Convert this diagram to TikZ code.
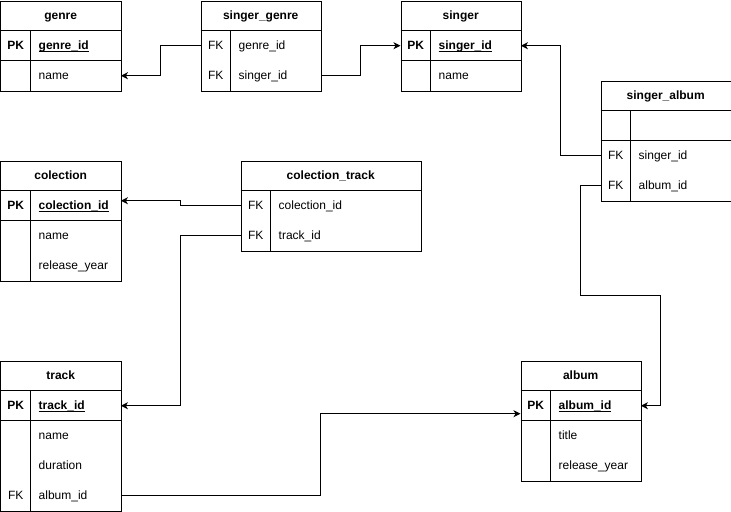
\documentclass[tikz,border=0pt]{standalone}
\usepackage{fontspec}
\setmainfont{Liberation Sans}
\usetikzlibrary{arrows.meta}
\newcommand\pkul[1]{\setbox0\hbox{#1}\rlap{\rule[-1.6pt]{\wd0}{0.8pt}}\box0}
\begin{document}
\begin{tikzpicture}[x=1pt,y=-1pt,
  every node/.style={font=\fontsize{12pt}{14pt}\selectfont},
  ln/.style={line width=1pt},
  tbox/.style={draw, line width=1pt, anchor=north west, inner sep=0pt, minimum height=#1},
  head/.style={anchor=north west, inner sep=0pt, minimum height=30pt, text height=11pt, text depth=2.5pt, font=\fontsize{12pt}{14pt}\selectfont\bfseries},
  keycell/.style={anchor=north west, inner sep=0pt, minimum width=30pt, minimum height=30pt, text height=11pt, text depth=2.5pt},
  fieldcell/.style={anchor=north west, inner xsep=8pt, inner ysep=0pt, minimum height=30pt, text height=11pt, text depth=2.5pt, align=left},
  conn/.style={line width=1pt, -{Stealth[length=7pt,width=7pt,inset=2pt]}}
]
\useasboundingbox (-0.5,-0.5) rectangle (730.5,511);

% ---------- genre ----------
\node[tbox=90pt, minimum width=120pt] (genre) at (0,0) {};
\node[head, minimum width=120pt] (genre-h) at (0,0) {genre};
\node[keycell] (genre-pkk) at (0,30) {\bfseries PK};
\node[fieldcell, text width=74pt] (genre-pk) at (30,30) {\bfseries\pkul{genre\_id}};
\node[keycell] (genre-k2) at (0,60) {};
\node[fieldcell, text width=74pt] (genre-name) at (30,60) {name};
\draw[ln] (genre-h.south west) -- (genre-h.south east);
\draw[ln] (genre-pkk.south west) -- (genre-pk.south east);
\draw[ln] (genre-pkk.north east) -- (genre-k2.south east);

% ---------- singer_genre ----------
\node[tbox=90pt, minimum width=120pt] (sg) at (200,0) {};
\node[head, minimum width=120pt] (sg-h) at (200,0) {singer\_genre};
\node[keycell] (sg-k1) at (200,30) {FK};
\node[fieldcell, text width=74pt] (sg-gid) at (230,30) {genre\_id};
\node[keycell] (sg-k2) at (200,60) {FK};
\node[fieldcell, text width=74pt] (sg-sid) at (230,60) {singer\_id};
\draw[ln] (sg-h.south west) -- (sg-h.south east);
\draw[ln] (sg-k1.north east) -- (sg-k2.south east);

% ---------- singer ----------
\node[tbox=90pt, minimum width=120pt] (singer) at (400,0) {};
\node[head, minimum width=120pt] (singer-h) at (400,0) {singer};
\node[keycell] (singer-pkk) at (400,30) {\bfseries PK};
\node[fieldcell, text width=74pt] (singer-pk) at (430,30) {\bfseries\pkul{singer\_id}};
\node[keycell] (singer-k2) at (400,60) {};
\node[fieldcell, text width=74pt] (singer-name) at (430,60) {name};
\draw[ln] (singer-h.south west) -- (singer-h.south east);
\draw[ln] (singer-pkk.south west) -- (singer-pk.south east);
\draw[ln] (singer-pkk.north east) -- (singer-k2.south east);

% ---------- singer_album ----------
\node[tbox=120pt, minimum width=130pt] (sa) at (600,80) {};
\node[head, minimum width=130pt] (sa-h) at (600,80) {singer\_album};
\node[keycell] (sa-k1) at (600,110) {};
\node[fieldcell, text width=84pt] (sa-f1) at (630,110) {};
\node[keycell] (sa-k2) at (600,140) {FK};
\node[fieldcell, text width=84pt] (sa-sid) at (630,140) {singer\_id};
\node[keycell] (sa-k3) at (600,170) {FK};
\node[fieldcell, text width=84pt] (sa-aid) at (630,170) {album\_id};
\draw[ln] (sa-h.south west) -- (sa-h.south east);
\draw[ln] (sa-k1.south west) -- (sa-f1.south east);
\draw[ln] (sa-k1.north east) -- (sa-k3.south east);

% ---------- colection ----------
\node[tbox=120pt, minimum width=120pt] (col) at (0,160) {};
\node[head, minimum width=120pt] (col-h) at (0,160) {colection};
\node[keycell] (col-pkk) at (0,190) {\bfseries PK};
\node[fieldcell, text width=74pt] (col-pk) at (30,190) {\bfseries\pkul{colection\_id}};
\node[keycell] (col-k2) at (0,220) {};
\node[fieldcell, text width=74pt] (col-name) at (30,220) {name};
\node[keycell] (col-k3) at (0,250) {};
\node[fieldcell, text width=74pt] (col-year) at (30,250) {release\_year};
\draw[ln] (col-h.south west) -- (col-h.south east);
\draw[ln] (col-pkk.south west) -- (col-pk.south east);
\draw[ln] (col-pkk.north east) -- (col-k3.south east);

% ---------- colection_track ----------
\node[tbox=90pt, minimum width=180pt] (ct) at (240,160) {};
\node[head, minimum width=180pt] (ct-h) at (240,160) {colection\_track};
\node[keycell] (ct-k1) at (240,190) {FK};
\node[fieldcell, text width=134pt] (ct-cid) at (270,190) {colection\_id};
\node[keycell] (ct-k2) at (240,220) {FK};
\node[fieldcell, text width=134pt] (ct-tid) at (270,220) {track\_id};
\draw[ln] (ct-h.south west) -- (ct-h.south east);
\draw[ln] (ct-k1.north east) -- (ct-k2.south east);

% ---------- track ----------
\node[tbox=150pt, minimum width=120pt] (track) at (0,360) {};
\node[head, minimum width=120pt] (track-h) at (0,360) {track};
\node[keycell] (track-pkk) at (0,390) {\bfseries PK};
\node[fieldcell, text width=74pt] (track-pk) at (30,390) {\bfseries\pkul{track\_id}};
\node[keycell] (track-k2) at (0,420) {};
\node[fieldcell, text width=74pt] (track-name) at (30,420) {name};
\node[keycell] (track-k3) at (0,450) {};
\node[fieldcell, text width=74pt] (track-dur) at (30,450) {duration};
\node[keycell] (track-k4) at (0,480) {FK};
\node[fieldcell, text width=74pt] (track-aid) at (30,480) {album\_id};
\draw[ln] (track-h.south west) -- (track-h.south east);
\draw[ln] (track-pkk.south west) -- (track-pk.south east);
\draw[ln] (track-pkk.north east) -- (track-k4.south east);

% ---------- album ----------
\node[tbox=120pt, minimum width=120pt] (album) at (520,360) {};
\node[head, minimum width=120pt] (album-h) at (520,360) {album};
\node[keycell] (album-pkk) at (520,390) {\bfseries PK};
\node[fieldcell, text width=74pt] (album-pk) at (550,390) {\bfseries\pkul{album\_id}};
\node[keycell] (album-k2) at (520,420) {};
\node[fieldcell, text width=74pt] (album-title) at (550,420) {title};
\node[keycell] (album-k3) at (520,450) {};
\node[fieldcell, text width=74pt] (album-year) at (550,450) {release\_year};
\draw[ln] (album-h.south west) -- (album-h.south east);
\draw[ln] (album-pkk.south west) -- (album-pk.south east);
\draw[ln] (album-pkk.north east) -- (album-k3.south east);

% ---------- connectors ----------
\draw[conn] (sg-k1.west) -- ++(-40,0) |- (genre-name.east);
\draw[conn] (sg-sid.east) -- ++(40,0) |- (singer-pkk.west);
\draw[conn] (sa-k2.west) -- ++(-40,0) |- (singer-pk.east);
\draw[conn] (sa-k3.west) -- ++(-20,0) -- ++(0,110) -- ++(80,0) |- (album-pk.east);
\draw[conn] (ct-k1.west) -- ++(-60,0) |- ([yshift=5pt]col-pk.east);
\draw[conn] (ct-k2.west) -- ++(-60,0) |- (track-pk.east);
\draw[conn] (track-aid.east) -- ++(200,0) |- ([yshift=-8pt]album-pkk.west);
\end{tikzpicture}
\end{document}
